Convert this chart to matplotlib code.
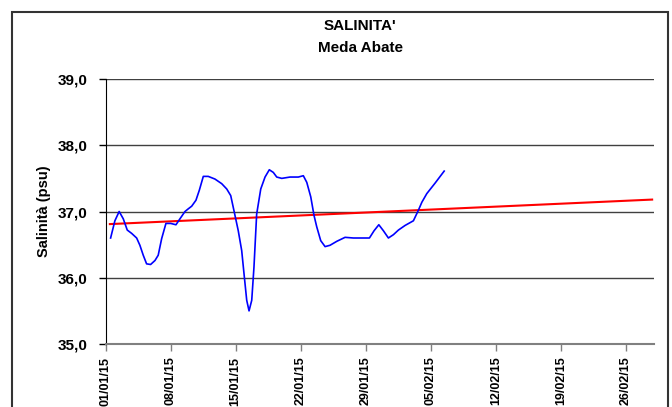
import matplotlib
matplotlib.use("Agg")
import matplotlib.pyplot as plt
from matplotlib.patches import Rectangle

plt.rcParams["font.family"] = ["Liberation Sans", "DejaVu Sans"]

# days since 01/01/15 and salinity (psu)
days = [0.55, 1.01, 1.47, 1.91, 2.34, 2.81, 3.35, 3.70, 4.06, 4.42, 4.85, 5.32,
        5.67, 6.04, 6.50, 7.01, 7.58, 8.01, 8.55, 8.90, 9.27, 9.73, 10.09, 10.52,
        11.05, 11.77, 12.50, 13.04, 13.47, 13.93, 14.28, 14.65, 14.90, 15.19,
        15.44, 15.73, 15.97, 16.26, 16.70, 17.16, 17.62, 18.05, 18.42, 18.96,
        19.85, 20.74, 21.28, 21.65, 22.08, 22.43, 22.72, 23.15, 23.62, 24.15,
        24.88, 25.77, 26.66, 27.56, 28.39, 28.89, 29.40, 29.89, 30.43, 30.97,
        31.51, 32.23, 33.12, 33.66, 34.03, 34.56, 35.46, 36.43]
salinity = [36.60, 36.86, 37.00, 36.89, 36.72, 36.67, 36.60, 36.49, 36.34, 36.21,
            36.20, 36.26, 36.34, 36.59, 36.82, 36.82, 36.80, 36.89, 37.00, 37.04,
            37.08, 37.17, 37.32, 37.53, 37.53, 37.49, 37.42, 37.34, 37.24, 36.94,
            36.71, 36.41, 36.06, 35.66, 35.50, 35.66, 36.16, 36.96, 37.34, 37.52,
            37.63, 37.59, 37.52, 37.50, 37.52, 37.52, 37.54, 37.44, 37.22, 36.94,
            36.77, 36.56, 36.47, 36.49, 36.55, 36.61, 36.60, 36.60, 36.60, 36.71,
            36.80, 36.71, 36.60, 36.65, 36.72, 36.79, 36.86, 37.02, 37.14, 37.27,
            37.43, 37.61]

# linear trend line endpoints
trend_days = [0.47, 58.8]
trend_vals = [36.81, 37.18]

tick_days = [0, 7, 14, 21, 28, 35, 42, 49, 56]
tick_labels = ["01/01/15", "08/01/15", "15/01/15", "22/01/15", "29/01/15",
               "05/02/15", "12/02/15", "19/02/15", "26/02/15"]
y_ticks = [35.0, 36.0, 37.0, 38.0, 39.0]

fig = plt.figure(figsize=(6.72, 4.07), dpi=100)
ax = fig.add_axes([105.5 / 672, 1 - 344 / 407, (654 - 105.5) / 672, (344 - 79) / 407])

for v in y_ticks[1:]:
    ax.axhline(v, color="#404040", lw=1, zorder=1)

ax.plot(days, salinity, color="#0000FF", lw=1.2, zorder=3)
ax.plot(trend_days, trend_vals, color="#FF0000", lw=1.5, zorder=2)

ax.set_xlim(0, 59)
ax.set_ylim(35, 39)
ax.set_yticks(y_ticks)
ax.set_yticklabels([f"{v:.1f}".replace(".", ",") for v in y_ticks],
                   fontsize=11, fontweight="bold")
ax.set_xticks(tick_days)
ax.set_xticklabels(tick_labels, rotation=90, fontsize=9, fontweight="bold")
ax.tick_params(axis="y", direction="out", length=5, width=1, pad=8)
ax.tick_params(axis="x", direction="out", length=5, width=1, color="#808080", pad=4)

for s in ["top", "right"]:
    ax.spines[s].set_visible(False)
ax.spines["left"].set_color("black")
ax.spines["bottom"].set_color("#808080")
ax.spines["bottom"].set_linewidth(1.5)

ax.set_ylabel("Salinità (psu)", fontsize=10.5, fontweight="bold", labelpad=5)

fig.text(360 / 672, 1 - 26.5 / 407, "SALINITA'", ha="center", va="center",
         fontsize=11, fontweight="bold")
fig.text(360 / 672, 1 - 48.5 / 407, "Meda Abate", ha="center", va="center",
         fontsize=11, fontweight="bold")

fig.patches.append(Rectangle((12 / 672, -0.05), 656 / 672, 1.05 - 12 / 407,
                             transform=fig.transFigure, fill=False,
                             edgecolor="#333333", lw=1.5))

fig.savefig("out.png", dpi=100)
